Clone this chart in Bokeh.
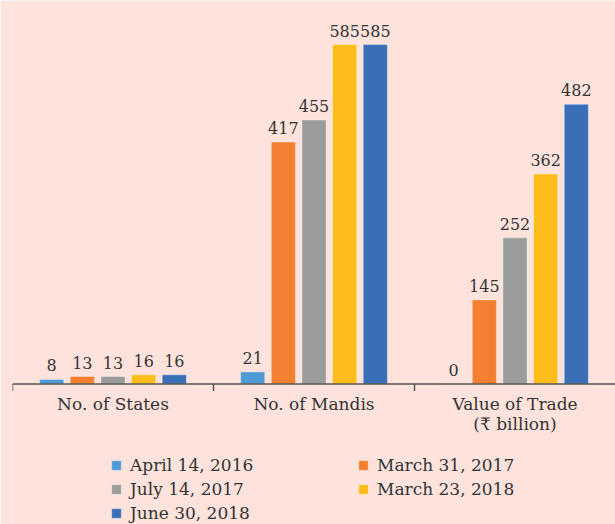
from bokeh.plotting import figure
from bokeh.models import (FactorRange, Range1d, Span, Legend, LegendItem, ColumnDataSource)
from bokeh.transform import dodge
from bokeh.core.properties import value
from bokeh.embed import file_html
from bokeh.resources import INLINE

# ---- data ----
groups = ["No. of States", "No. of Mandis", "Value of Trade\n(₹ billion)"]
series = ["April 14, 2016", "March 31, 2017", "July 14, 2017",
          "March 23, 2018", "June 30, 2018"]
apr_14_2016 = [8, 21, 0]
mar_31_2017 = [13, 417, 145]
jul_14_2017 = [13, 455, 252]
mar_23_2018 = [16, 585, 362]
jun_30_2018 = [16, 585, 482]
series_values = [apr_14_2016, mar_31_2017, jul_14_2017, mar_23_2018, jun_30_2018]
colors = ["#4e9ad6", "#f37f30", "#9b9d9d", "#fdbc1a", "#3a6fb8"]

BG = "#fee3dd"
TXT = "#333333"
AXIS = "#555555"
FONT = "DejaVu Serif"

# frame covers the whole canvas height; the area below zero holds the
# category labels and the legend
p = figure(x_range=FactorRange(*groups, range_padding=0),
           y_range=Range1d(-242, 661),
           width=615, height=524,
           output_backend="svg", toolbar_location=None,
           x_axis_location=None, y_axis_location=None,
           min_border_left=12, min_border_right=0,
           min_border_top=0, min_border_bottom=0,
           background_fill_color=BG, border_fill_color=BG,
           outline_line_color=None)
p.grid.visible = False

step = 0.1525
bar_w = 0.12
renderers = []
for i, (name, vals, col) in enumerate(zip(series, series_values, colors)):
    off = (i - 2) * step
    src = ColumnDataSource(dict(group=groups, val=vals, lab=[str(v) for v in vals]))
    r = p.vbar(x=dodge("group", off, range=p.x_range), top="val", bottom=0,
               width=bar_w, source=src, fill_color=col, line_color="white",
               line_alpha=0.35, line_width=1)
    renderers.append(r)
    p.text(x=dodge("group", off, range=p.x_range), y="val", text="lab", source=src,
           text_font=value(FONT), text_font_size="16px", text_color=TXT,
           text_align="center", text_baseline="alphabetic", y_offset=-14)

# baseline (x axis line)
p.add_layout(Span(location=0, dimension="width", line_color=AXIS, line_width=1.5))

# tick marks at the group boundaries
gsrc = ColumnDataSource(dict(group=groups))
p.segment(x0=dodge("group", -0.5, range=p.x_range), y0=0,
          x1=dodge("group", -0.5, range=p.x_range), y1=-12,
          source=gsrc, line_color=AXIS, line_width=1.5)

# category labels
p.text(x="group", y=0, text="group", source=gsrc,
       text_font=value(FONT), text_font_size="17px", text_color=TXT,
       text_align="center", text_baseline="top", text_line_height=1.0,
       y_offset=10)

# legend (row-major order)
items = [LegendItem(label=s, renderers=[r]) for s, r in zip(series, renderers)]
legend = Legend(items=items, orientation="horizontal", ncols=2,
                location=(98, 1),
                glyph_width=12, glyph_height=12, label_standoff=8,
                label_width=223, label_height=18, spacing=4, padding=0, margin=0,
                label_text_font=FONT, label_text_font_size="17px",
                label_text_color=TXT,
                background_fill_alpha=0, border_line_color=None)
p.add_layout(legend, "center")

open("out.html", "w").write(file_html(p, INLINE))
